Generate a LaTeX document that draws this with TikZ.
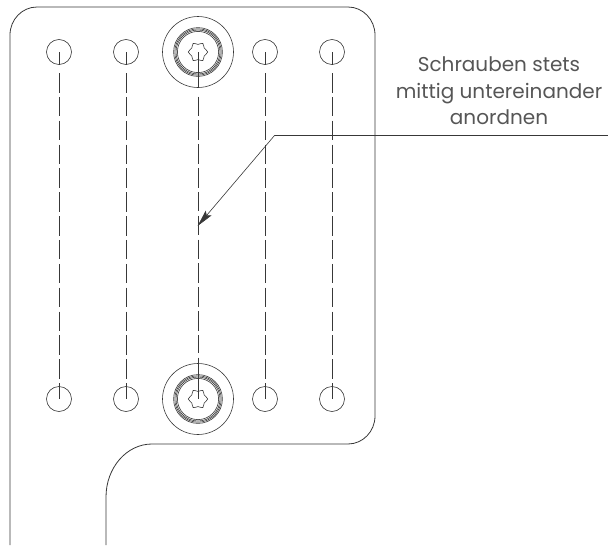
\documentclass[tikz,border=0pt]{standalone}
\usepackage{fontspec}
\setmainfont{Poppins}
\usetikzlibrary{arrows.meta,calc}
\definecolor{ink}{gray}{0.22}
\tikzset{
  outline/.style={draw=ink,line width=0.8pt},
  thin outline/.style={draw=ink,line width=0.6pt},
  ring/.style={draw=ink,line width=0.6pt},
  solid axis/.style={draw=ink,line width=0.7pt},
  axis line/.style={draw=ink,line width=0.7pt,dash pattern=on 19.5pt off 4.35pt},
  leader/.style={draw=ink,line width=0.6pt},
  note/.style={align=center,font=\fontsize{20pt}{26.5pt}\selectfont,text=ink!85,inner sep=0pt},
}
\begin{document}
\begin{tikzpicture}[x=1pt,y=-1pt]
\useasboundingbox (0,0) rectangle (608,546);
% plate outline
\draw[outline] (10,545) -- (10,35) arc[start angle=180,end angle=90,x radius=27,y radius=-28] -- (348,7)
  arc[start angle=90,end angle=0,x radius=27,y radius=-28] -- (375,416)
  arc[start angle=0,end angle=-90,x radius=27,y radius=-28] -- (152,444)
  arc[start angle=90,end angle=180,x radius=46,y radius=-53] -- (106,545);
% holes
\foreach \n/\x in {a/59,b/126,d/265,e/332}{
  \node[circle,thin outline,minimum size=25pt,inner sep=0pt] (\n t) at (\x,52) {};
  \node[circle,thin outline,minimum size=25pt,inner sep=0pt] (\n b) at (\x,399) {};
  \draw[solid axis] (\n t.center) -- ($(\n t.center)+(0,12.5)$);
  \draw[axis line] ($(\n t.center)+(0,21)$) -- (\n b.center);
}
% screws
\foreach \n/\y in {t/52,b/399}{
  \node[circle,thin outline,minimum size=71pt,inner sep=0pt] (s\n) at (198,\y) {};
  \foreach \r in {20.6,22,23.2,24.4}{
    \draw[ring] (s\n.center) circle[radius=\r];
  }
  \draw[thin outline] plot[smooth cycle,tension=0.55] coordinates {
    (198+9.7,\y) (198+6.2,\y+4)
    (198+4.8,\y+8.6) (198,\y+7.6)
    (198-4.8,\y+8.6) (198-6.2,\y+4)
    (198-9.7,\y) (198-6.2,\y-4)
    (198-4.8,\y-8.6) (198,\y-7.6)
    (198+4.8,\y-8.6) (198+6.2,\y-4)};
}
\draw[solid axis] (st.center) -- ($(st.center)+(0,35)$);
\draw[axis line] ($(st.center)+(0,44.5)$) -- ($(sb.center)+(0,-46)$);
\draw[solid axis] ($(sb.center)+(0,-41.5)$) -- (sb.center);
% annotation
\coordinate (tip) at (197.6,226);
\coordinate (knee) at (274.5,135.5);
\coordinate (tail) at (608,135.5);
\draw[leader,-{Stealth[length=17pt,width=7.5pt,inset=3pt]}] (tail) -- (knee) -- (tip);
\node[note] (label) at (499,91) {Schrauben stets\\mittig untereinander\\anordnen};
\end{tikzpicture}
\end{document}
